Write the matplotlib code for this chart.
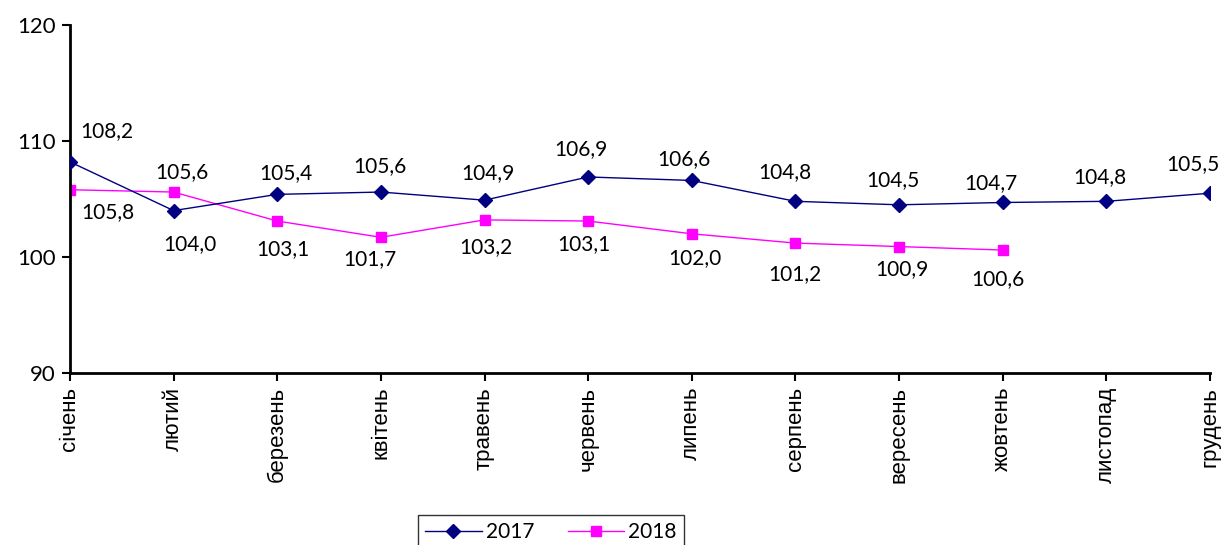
import matplotlib
matplotlib.use("Agg")
import matplotlib.pyplot as plt
from matplotlib.lines import Line2D

plt.rcParams['font.family'] = ['Lato', 'DejaVu Sans']

months = ["січень", "лютий", "березень", "квітень", "травень", "червень",
          "липень", "серпень", "вересень", "жовтень", "листопад", "грудень"]
vals_2017 = [108.2, 104.0, 105.4, 105.6, 104.9, 106.9, 106.6, 104.8, 104.5, 104.7, 104.8, 105.5]
vals_2018 = [105.8, 105.6, 103.1, 101.7, 103.2, 103.1, 102.0, 101.2, 100.9, 100.6]

# label offsets in pixels (dx right, dy up) - as placed in the source chart
off_2017 = [(37, 31), (16, -33), (9, 21), (-1, 26), (3, 27), (-7, 28),
            (-8, 21), (-11, 29), (-6, 25), (-12, 19), (-7, 24), (-17, 29)]
off_2018 = [(38, -22), (8, 20), (6, -28), (-11, -22), (1, -27), (-4, -23),
            (3, -24), (-1, -31), (3, -23), (-5, -29)]

C17 = "#000080"
C18 = "#ff00ff"
FS = 15

fig = plt.figure(figsize=(12.21, 5.45), dpi=100)
ax = fig.add_axes([0.0573, 0.3156, 0.9337, 0.6385])

x17 = list(range(len(vals_2017)))
x18 = list(range(len(vals_2018)))
ax.plot(x17, vals_2017, color=C17, lw=1.0, marker="D", ms=7.5, mec=C17, mfc=C17, zorder=3)
ax.plot(x18, vals_2018, color=C18, lw=1.0, marker="s", ms=7.5, mec=C18, mfc=C18, zorder=2)

for i, v in enumerate(vals_2017):
    ax.annotate(f"{v:.1f}".replace(".", ","), (i, v), xytext=off_2017[i],
                textcoords="offset pixels", ha="center", va="center",
                fontsize=FS, annotation_clip=False)
for i, v in enumerate(vals_2018):
    ax.annotate(f"{v:.1f}".replace(".", ","), (i, v), xytext=off_2018[i],
                textcoords="offset pixels", ha="center", va="center",
                fontsize=FS, annotation_clip=False)

ax.set_xlim(0, 11)
ax.set_ylim(90, 120)
ax.set_yticks([90, 100, 110, 120])
ax.set_xticks(x17)
ax.set_xticklabels(months, rotation=90, fontsize=16, family=["Liberation Sans", "DejaVu Sans"])
ax.tick_params(axis="y", labelsize=16, direction="out", length=6, width=1.5, pad=4)
ax.tick_params(axis="x", direction="out", length=6, width=1.5, pad=4)
for s in ("top", "right"):
    ax.spines[s].set_visible(False)
for s in ("left", "bottom"):
    ax.spines[s].set_linewidth(2)
    ax.spines[s].set_color("black")

handles = [
    Line2D([0], [0], color=C17, lw=1, marker="D", ms=7.5, mfc=C17, mec=C17),
    Line2D([0], [0], color=C18, lw=1, marker="s", ms=7.5, mfc=C18, mec=C18),
]
leg = fig.legend(handles, ["2017", "2018"], loc="upper left",
                 bbox_to_anchor=(418 / 1221, 1 - 515 / 545), ncol=2,
                 fontsize=FS, frameon=True, fancybox=False, edgecolor="black",
                 borderpad=0.35, handlelength=2.7, columnspacing=1.6,
                 handletextpad=0.2, borderaxespad=0)
leg.get_frame().set_linewidth(1.0)

fig.savefig("out.png", dpi=100)
